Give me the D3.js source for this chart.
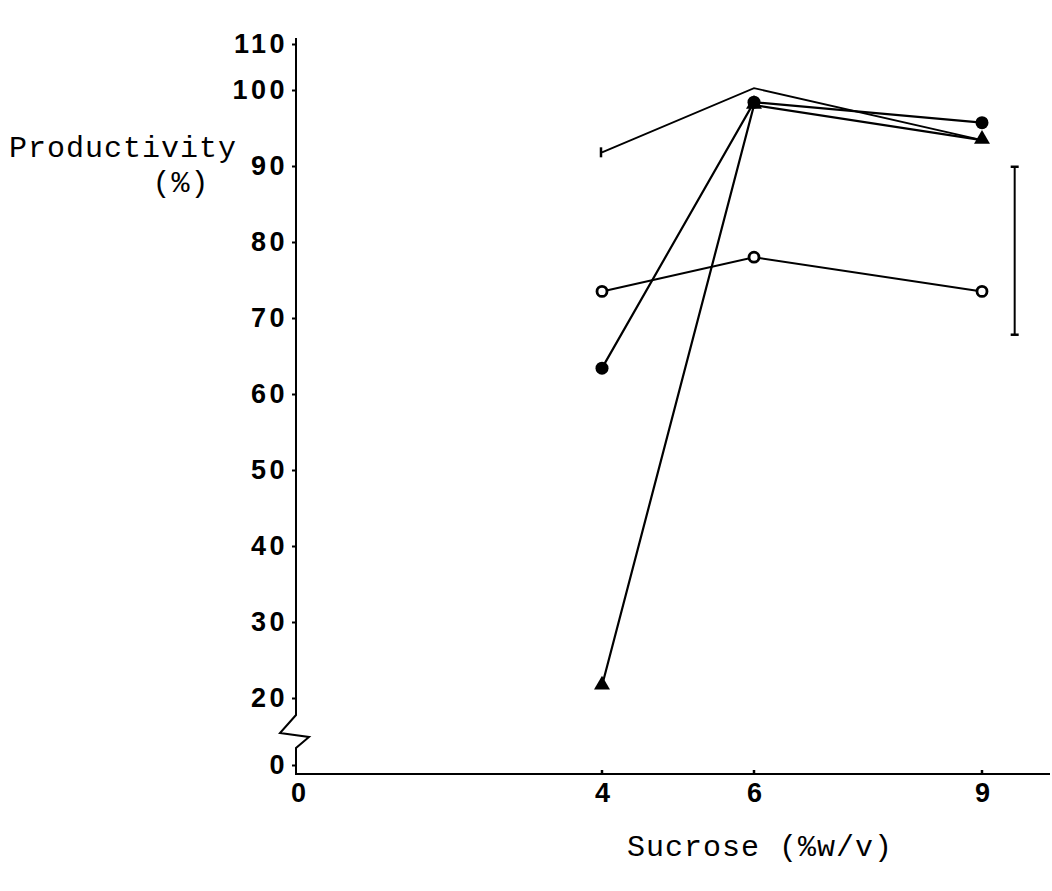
<!DOCTYPE html>
<html>
<head>
<meta charset="utf-8">
<script src="https://cdn.jsdelivr.net/npm/d3@7/dist/d3.min.js"></script>
<style>
  html, body { margin: 0; padding: 0; background: #fff; }
  svg { display: block; }
  .tick text { font-family: "Liberation Sans", Arial, sans-serif; font-weight: bold; font-size: 27px; letter-spacing: 3.5px; fill: #000; }
  .tick line { stroke: #000; stroke-width: 2; }
  .title { font-family: "Liberation Mono", "Courier New", monospace; font-size: 30px; letter-spacing: 1px; fill: #000; }
</style>
</head>
<body>
<svg id="chart" width="1052" height="891"></svg>
<script>
// Sucrose concentration (% w/v)
const sucrose = [4, 6, 9];

// Productivity (%) for each treatment
const openCircle   = [73.5, 78.0, 73.5];
const filledCircle = [63.4, 98.4, 95.7];
const triangle     = [21.6, 98.0, 93.4];
const dash         = [91.8, 100.4, 93.4];

// Least significant difference bar
const lsdX = 9.43;
const lsdRange = [67.8, 89.9];

const xTicks = [0, 4, 6, 9];
const yTicks = [0, 20, 30, 40, 50, 60, 70, 80, 90, 100, 110];

const svg = d3.select("#chart");

const x = d3.scaleLinear().domain([0, 9]).range([298, 982]);
// broken axis: 0 sits just under the break, 20..100 evenly spaced, 110 closes the top
const y = d3.scaleLinear().domain([0, 20, 100, 110]).range([765, 698, 90, 44]);

const x0 = x(0) - 2;
const yBase = 774;

// x axis
const xAxis = d3.axisBottom(x).tickValues(xTicks).tickSize(0).tickPadding(9);
const gx = svg.append("g").attr("transform", `translate(0,${yBase})`).call(xAxis);
gx.select(".domain").remove();
gx.selectAll(".tick text").attr("dy", "0.72em").style("letter-spacing", "0");
svg.append("line").attr("x1", x0).attr("x2", 1050).attr("y1", yBase).attr("y2", yBase)
  .attr("stroke", "#000").attr("stroke-width", 2);
svg.selectAll(".xtickmark").data(xTicks.slice(1)).join("line")
  .attr("x1", d => x(d)).attr("x2", d => x(d))
  .attr("y1", yBase).attr("y2", yBase - 4)
  .attr("stroke", "#000").attr("stroke-width", 2.5);

// y axis
const yAxis = d3.axisLeft(y).tickValues(yTicks).tickSize(4).tickPadding(4);
const gy = svg.append("g").attr("transform", `translate(${x0},0)`).call(yAxis);
gy.select(".domain").remove();

// y axis line with a zigzag break between 0 and 20
const yb = y(20) + 17;
const axisPath = d3.path();
axisPath.moveTo(x0, y(110) - 6);
axisPath.lineTo(x0, yb);
axisPath.lineTo(x0 - 16, yb + 18);
axisPath.lineTo(x0 + 13, yb + 22);
axisPath.lineTo(x0, yb + 33);
axisPath.lineTo(x0, yBase + 1);
svg.append("path").attr("d", axisPath.toString())
  .attr("fill", "none").attr("stroke", "#000").attr("stroke-width", 2)
  .attr("stroke-linejoin", "miter");

// axis titles
svg.append("text").attr("class", "title").attr("x", 123).attr("y", 157)
  .attr("text-anchor", "middle").text("Productivity");
svg.append("text").attr("class", "title").attr("x", 181).attr("y", 192)
  .attr("text-anchor", "middle").text("(%)");
svg.append("text").attr("class", "title").attr("x", 760).attr("y", 856)
  .attr("text-anchor", "middle").text("Sucrose (%w/v)");

// series lines
const line = d3.line().x((d, i) => x(sucrose[i])).y(d => y(d));
const series = [
  { data: dash, w: 1.8 },
  { data: openCircle, w: 2 },
  { data: filledCircle, w: 2.2 },
  { data: triangle, w: 2.2 }
];
svg.selectAll(".series").data(series).join("path")
  .attr("class", "series")
  .attr("d", d => line(d.data))
  .attr("fill", "none").attr("stroke", "#000")
  .attr("stroke-width", d => d.w);

// open circle markers
svg.selectAll(".open").data(openCircle).join("circle")
  .attr("cx", (d, i) => x(sucrose[i])).attr("cy", d => y(d))
  .attr("r", 5).attr("fill", "#fff").attr("stroke", "#000").attr("stroke-width", 2.8);

// filled circle markers
svg.selectAll(".filled").data(filledCircle).join("circle")
  .attr("cx", (d, i) => x(sucrose[i])).attr("cy", d => y(d))
  .attr("r", 6.5).attr("fill", "#000");

// triangle markers
const tri = d3.symbol().type(d3.symbolTriangle).size(110);
svg.selectAll(".tri").data(triangle).join("path")
  .attr("transform", (d, i) => `translate(${x(sucrose[i])},${y(d) - 1})`)
  .attr("d", tri).attr("fill", "#000");

// short dash marker for the remaining treatment
svg.selectAll(".dashmark").data(dash.slice(0, 1)).join("line")
  .attr("x1", (d, i) => x(sucrose[i]) - 1).attr("x2", (d, i) => x(sucrose[i]) - 1)
  .attr("y1", d => y(d) - 5).attr("y2", d => y(d) + 5)
  .attr("stroke", "#000").attr("stroke-width", 2.5);

// LSD bar
const lsd = svg.append("g");
lsd.append("line").attr("x1", x(lsdX)).attr("x2", x(lsdX))
  .attr("y1", y(lsdRange[1])).attr("y2", y(lsdRange[0]))
  .attr("stroke", "#000").attr("stroke-width", 2);
lsd.selectAll(".cap").data(lsdRange).join("line")
  .attr("x1", x(lsdX) - 4).attr("x2", x(lsdX) + 4)
  .attr("y1", d => y(d)).attr("y2", d => y(d))
  .attr("stroke", "#000").attr("stroke-width", 2.5);
</script>
</body>
</html>
